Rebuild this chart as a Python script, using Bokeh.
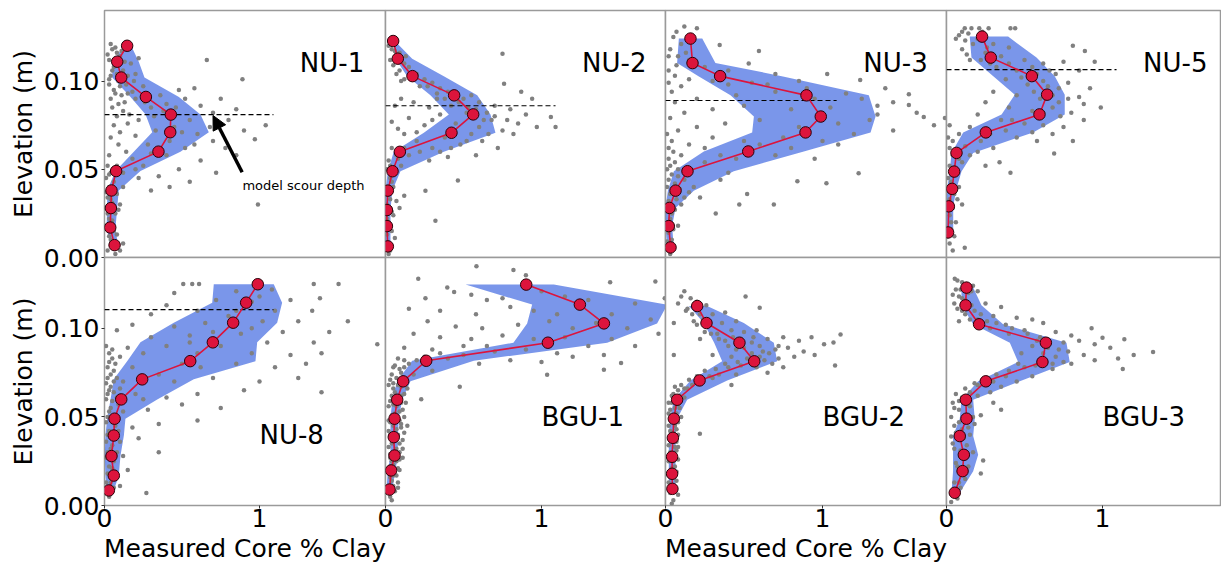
from bokeh.plotting import figure
from bokeh.layouts import row, column
from bokeh.models import Range1d, FixedTicker, PrintfTickFormatter, Label, Arrow, NormalHead
from bokeh.embed import file_html
from bokeh.resources import INLINE

# ---------------- data ----------------
PANEL_NAMES = ["NU-1", "NU-2", "NU-3", "NU-5", "NU-8", "BGU-1", "BGU-2", "BGU-3"]

NU1_ELEV = [0.120, 0.111, 0.102, 0.091, 0.081, 0.071, 0.060, 0.049, 0.038, 0.028, 0.017, 0.007]
NU1_CLAY = [0.146, 0.082, 0.108, 0.267, 0.428, 0.424, 0.348, 0.075, 0.045, 0.041, 0.037, 0.065]
NU1_LO = [0.129, 0.050, 0.050, 0.168, 0.265, 0.308, 0.189, 0.071, 0.017, 0.017, 0.013, 0.039]
NU1_HI = [0.172, 0.221, 0.258, 0.480, 0.619, 0.673, 0.490, 0.232, 0.092, 0.082, 0.071, 0.086]
NU1_SCOUR = 0.081

NU2_ELEV = [0.1227, 0.1127, 0.1028, 0.0919, 0.0811, 0.0707, 0.0599, 0.0489, 0.0379, 0.0269, 0.0178, 0.0063]
NU2_CLAY = [0.049, 0.079, 0.173, 0.440, 0.562, 0.423, 0.092, 0.045, 0.015, 0.009, 0.009, 0.015]
NU2_LO = [0.049, 0.064, 0.139, 0.288, 0.406, 0.246, 0.053, 0.015, 0.0, 0.0, 0.0, 0.0]
NU2_HI = [0.060, 0.171, 0.374, 0.588, 0.673, 0.705, 0.374, 0.096, 0.043, 0.032, 0.032, 0.032]
NU2_SCOUR = 0.086

NU3_ELEV = [0.1241, 0.1102, 0.1028, 0.0919, 0.0799, 0.0709, 0.0601, 0.0489, 0.0379, 0.0281, 0.0178, 0.0057]
NU3_CLAY = [0.159, 0.172, 0.348, 0.898, 0.989, 0.892, 0.527, 0.140, 0.064, 0.025, 0.021, 0.032]
NU3_LO = [0.085, 0.074, 0.210, 0.414, 0.563, 0.552, 0.244, 0.053, 0.015, 0.0, 0.0, 0.011]
NU3_HI = [0.234, 0.318, 0.741, 1.295, 1.338, 1.306, 0.881, 0.435, 0.180, 0.064, 0.042, 0.053]
NU3_SCOUR = 0.089

NU5_ELEV = [0.1252, 0.1133, 0.1028, 0.0923, 0.0811, 0.0709, 0.0593, 0.0487, 0.0389, 0.0290, 0.0142]
NU5_CLAY = [0.228, 0.284, 0.547, 0.645, 0.596, 0.252, 0.064, 0.049, 0.036, 0.015, 0.010]
NU5_LO = [0.149, 0.160, 0.300, 0.438, 0.353, 0.107, 0.032, 0.021, 0.004, 0.0, 0.0]
NU5_HI = [0.395, 0.577, 0.694, 0.758, 0.758, 0.555, 0.171, 0.096, 0.064, 0.043, 0.043]
NU5_SCOUR = 0.1065

NU8_ELEV = [0.1249, 0.1145, 0.1032, 0.0921, 0.0815, 0.0712, 0.0599, 0.0490, 0.0395, 0.0279, 0.0169, 0.0085]
NU8_CLAY = [0.989, 0.914, 0.830, 0.699, 0.553, 0.243, 0.108, 0.065, 0.060, 0.045, 0.060, 0.028]
NU8_LO = [0.705, 0.695, 0.447, 0.232, 0.146, 0.060, 0.039, 0.017, 0.006, 0.002, 0.006, 0.013]
NU8_HI = [1.092, 1.146, 1.114, 0.985, 0.974, 0.576, 0.340, 0.135, 0.125, 0.103, 0.092, 0.060]
NU8_SCOUR = 0.1106

BGU1_ELEV = [0.1247, 0.1134, 0.1028, 0.0919, 0.0817, 0.0701, 0.0597, 0.0490, 0.0386, 0.0282, 0.0198, 0.0090]
BGU1_CLAY = [0.902, 1.246, 1.400, 1.041, 0.261, 0.113, 0.075, 0.058, 0.053, 0.058, 0.036, 0.026]
BGU1_LO = [0.513, 0.940, 0.908, 0.820, 0.171, 0.075, 0.043, 0.032, 0.032, 0.032, 0.015, 0.006]
BGU1_HI = [1.079, 1.806, 1.741, 1.421, 0.566, 0.160, 0.107, 0.085, 0.079, 0.079, 0.064, 0.043]
BGU1_SCOUR = None

BGU2_ELEV = [0.1126, 0.1030, 0.0919, 0.0814, 0.0706, 0.0597, 0.0490, 0.0382, 0.0275, 0.0179, 0.0094]
BGU2_CLAY = [0.202, 0.261, 0.471, 0.565, 0.217, 0.074, 0.053, 0.047, 0.042, 0.042, 0.044]
BGU2_LO = [0.149, 0.244, 0.310, 0.361, 0.159, 0.053, 0.028, 0.021, 0.021, 0.021, 0.021]
BGU2_HI = [0.265, 0.499, 0.690, 0.711, 0.393, 0.138, 0.074, 0.064, 0.064, 0.064, 0.064]
BGU2_SCOUR = None

BGU3_ELEV = [0.1230, 0.1130, 0.1023, 0.0919, 0.0810, 0.0701, 0.0597, 0.0490, 0.0392, 0.0286, 0.0194, 0.0072]
BGU3_CLAY = [0.128, 0.122, 0.209, 0.637, 0.615, 0.252, 0.124, 0.128, 0.085, 0.111, 0.103, 0.053]
BGU3_LO = [0.096, 0.096, 0.171, 0.406, 0.459, 0.203, 0.096, 0.085, 0.042, 0.042, 0.042, 0.032]
BGU3_HI = [0.171, 0.224, 0.363, 0.769, 0.790, 0.470, 0.171, 0.181, 0.171, 0.203, 0.171, 0.085]
BGU3_SCOUR = None

# individual core measurements (clay, elevation)
NU1_POINTS = [
    (0.05, 0.118), (0.08, 0.116), (0.10, 0.114), (0.06, 0.108), (0.12, 0.106), (0.04, 0.103), (0.09, 0.100),
    (0.14, 0.098), (0.06, 0.095), (0.11, 0.092), (0.17, 0.110), (0.20, 0.104), (0.22, 0.113), (0.03, 0.098),
    (0.13, 0.088), (0.18, 0.094), (0.25, 0.097), (0.30, 0.085), (0.36, 0.092), (0.40, 0.087), (0.48, 0.095),
    (0.52, 0.090), (0.58, 0.096), (0.62, 0.086), (0.66, 0.112), (0.70, 0.082), (0.75, 0.090), (0.80, 0.078),
    (0.89, 0.101), (0.85, 0.084), (0.55, 0.078), (0.45, 0.074), (0.33, 0.072), (0.60, 0.070), (0.70, 0.066),
    (0.78, 0.062), (0.97, 0.067), (1.04, 0.075), (0.90, 0.072), (0.52, 0.062), (0.40, 0.058), (0.28, 0.064),
    (0.20, 0.069), (0.15, 0.076), (0.10, 0.071), (0.62, 0.055), (0.48, 0.050), (0.35, 0.046), (0.25, 0.052),
    (0.18, 0.056), (0.55, 0.043), (0.42, 0.040), (0.30, 0.038), (0.22, 0.045), (0.99, 0.030), (0.72, 0.048),
    (0.85, 0.058), (0.05, 0.085), (0.08, 0.080), (0.12, 0.083), (0.06, 0.075), (0.16, 0.081), (0.22, 0.078),
    (0.04, 0.068), (0.09, 0.064), (0.14, 0.060), (0.03, 0.058), (0.02, 0.052), (0.04, 0.048), (0.01, 0.045),
    (0.06, 0.043), (0.03, 0.040), (0.08, 0.036), (0.02, 0.034), (0.05, 0.031), (0.01, 0.028), (0.07, 0.025),
    (0.03, 0.022), (0.05, 0.019), (0.02, 0.016), (0.08, 0.013), (0.04, 0.010), (0.06, 0.006), (0.10, 0.004),
    (0.12, 0.008), (0.10, 0.030), (0.12, 0.040), (0.07, 0.110), (0.15, 0.119), (0.03, 0.112), (0.19, 0.100),
    (0.04, 0.121), (0.07, 0.119), (0.11, 0.117), (0.02, 0.115), (0.09, 0.112), (0.13, 0.111), (0.05, 0.106),
    (0.08, 0.104), (0.15, 0.103), (0.03, 0.101), (0.10, 0.097), (0.07, 0.093), (0.15, 0.093), (0.04, 0.090),
    (0.09, 0.087), (0.20, 0.090), (0.26, 0.088), (0.32, 0.080), (0.38, 0.083), (0.46, 0.085), (0.50, 0.071),
    (0.42, 0.066), (0.30, 0.059), (0.20, 0.050), (0.12, 0.048), (0.08, 0.052), (0.03, 0.047), (0.06, 0.039),
    (0.01, 0.037), (0.04, 0.033), (0.09, 0.027), (0.02, 0.025), (0.05, 0.021), (0.01, 0.018), (0.06, 0.015),
    (0.03, 0.012), (0.02, 0.004), (0.07, 0.002), (0.58, 0.064), (0.68, 0.074),
]
NU2_POINTS = [
    (0.04, 0.118), (0.07, 0.115), (0.10, 0.112), (0.13, 0.114), (0.05, 0.109), (0.09, 0.106), (0.15, 0.108),
    (0.20, 0.104), (0.25, 0.101), (0.12, 0.101), (0.30, 0.099), (0.35, 0.096), (0.22, 0.097), (0.40, 0.094),
    (0.45, 0.093), (0.50, 0.090), (0.55, 0.092), (0.60, 0.088), (0.75, 0.1155), (0.76, 0.0985), (0.87, 0.094),
    (0.94, 0.090), (0.70, 0.086), (0.65, 0.082), (0.80, 0.084), (0.90, 0.081), (1.06, 0.0797), (0.97, 0.074),
    (1.09, 0.0739), (0.85, 0.076), (0.75, 0.072), (0.68, 0.078), (0.60, 0.074), (0.55, 0.070), (0.45, 0.076),
    (0.35, 0.081), (0.28, 0.085), (0.18, 0.088), (0.10, 0.090), (0.06, 0.086), (0.15, 0.079), (0.25, 0.075),
    (0.38, 0.068), (0.48, 0.064), (0.62, 0.066), (0.72, 0.062), (0.30, 0.062), (0.20, 0.066), (0.12, 0.070),
    (0.08, 0.073), (0.04, 0.077), (0.15, 0.058), (0.28, 0.055), (0.40, 0.057), (0.58, 0.058), (0.464, 0.0436),
    (0.32, 0.0209), (0.256, 0.0379), (0.10, 0.052), (0.06, 0.048), (0.02, 0.055), (0.03, 0.045), (0.05, 0.040),
    (0.02, 0.036), (0.07, 0.032), (0.03, 0.028), (0.05, 0.024), (0.02, 0.020), (0.04, 0.015), (0.06, 0.011),
    (0.02, 0.008), (0.03, 0.004), (0.12, 0.035), (0.09, 0.028), (0.52, 0.082), (0.42, 0.086), (0.33, 0.090),
    (0.02, 0.120), (0.06, 0.117), (0.09, 0.116), (0.03, 0.112), (0.12, 0.110), (0.07, 0.104), (0.16, 0.104),
    (0.10, 0.100), (0.27, 0.097), (0.33, 0.093), (0.38, 0.090), (0.47, 0.088), (0.53, 0.085), (0.58, 0.084),
    (0.63, 0.078), (0.70, 0.080), (0.78, 0.078), (0.82, 0.070), (0.66, 0.070), (0.52, 0.066), (0.42, 0.062),
    (0.35, 0.060), (0.22, 0.060), (0.12, 0.062), (0.07, 0.058), (0.04, 0.062), (0.03, 0.052), (0.08, 0.056),
    (0.01, 0.050), (0.04, 0.043), (0.01, 0.040), (0.03, 0.033), (0.01, 0.030), (0.04, 0.026), (0.01, 0.022),
    (0.03, 0.018), (0.01, 0.013), (0.02, 0.002), (0.20, 0.071), (0.30, 0.078),
]
NU3_POINTS = [
    (0.12, 0.131), (0.20, 0.130), (0.05, 0.125), (0.10, 0.121), (0.345, 0.1205), (0.03, 0.118), (0.595, 0.117),
    (0.08, 0.114), (0.15, 0.112), (0.53, 0.110), (0.25, 0.108), (0.02, 0.106), (0.40, 0.106), (0.06, 0.103),
    (1.03, 0.104), (0.70, 0.104), (1.24, 0.1006), (0.85, 0.100), (0.55, 0.099), (0.30, 0.100), (0.10, 0.097),
    (0.04, 0.094), (1.40, 0.096), (1.55, 0.0926), (1.15, 0.093), (0.95, 0.090), (0.70, 0.094), (0.45, 0.092),
    (0.20, 0.090), (0.06, 0.088), (1.55, 0.0865), (1.35, 0.086), (1.05, 0.085), (0.80, 0.084), (0.50, 0.086),
    (0.30, 0.084), (0.12, 0.082), (0.03, 0.079), (1.645, 0.0797), (1.78, 0.079), (1.71, 0.075), (1.30, 0.078),
    (1.10, 0.076), (0.85, 0.074), (0.60, 0.078), (0.38, 0.076), (0.20, 0.074), (0.08, 0.072), (1.45, 0.072),
    (1.20, 0.070), (1.00, 0.066), (0.75, 0.068), (0.50, 0.066), (0.30, 0.068), (0.15, 0.064), (0.04, 0.066),
    (1.23, 0.0477), (1.025, 0.0421), (0.84, 0.0432), (0.95, 0.056), (0.70, 0.058), (0.45, 0.056), (0.25, 0.054),
    (0.10, 0.058), (0.69, 0.030), (0.47, 0.030), (0.32, 0.0249), (0.52, 0.036), (0.35, 0.044), (0.18, 0.040),
    (0.08, 0.046), (0.03, 0.052), (0.02, 0.044), (0.05, 0.038), (0.12, 0.034), (0.02, 0.032), (0.06, 0.027),
    (0.03, 0.022), (0.08, 0.018), (0.02, 0.014), (0.04, 0.010), (0.02, 0.005), (0.22, 0.034), (0.40, 0.048),
    (0.01, 0.070), (0.02, 0.062), (0.05, 0.060), (0.02, 0.056), (0.06, 0.054), (0.01, 0.050), (0.08, 0.050),
    (0.04, 0.047), (0.12, 0.044), (0.06, 0.042), (0.01, 0.040), (0.09, 0.039), (0.03, 0.036), (0.15, 0.037),
    (0.07, 0.033), (0.01, 0.028), (0.10, 0.030), (0.04, 0.025), (0.01, 0.019), (0.05, 0.016), (0.01, 0.009),
    (0.03, 0.002), (0.25, 0.062), (0.35, 0.058), (0.60, 0.064), (0.80, 0.062), (1.10, 0.064), (1.35, 0.081),
    (1.60, 0.082), (1.45, 0.088), (1.25, 0.090), (0.90, 0.096), (0.65, 0.098), (0.40, 0.098), (0.15, 0.101),
    (0.02, 0.099), (0.07, 0.109), (0.02, 0.114), (0.13, 0.116), (0.07, 0.128),
]
NU5_POINTS = [
    (0.117, 0.130), (0.16, 0.130), (0.21, 0.130), (0.27, 0.130), (0.41, 0.130), (0.44, 0.130), (0.08, 0.126),
    (0.12, 0.123), (0.20, 0.124), (0.30, 0.121), (0.40, 0.119), (0.81, 0.120), (0.887, 0.117), (0.10, 0.118),
    (0.25, 0.116), (0.35, 0.114), (0.50, 0.112), (0.62, 0.110), (0.95, 0.111), (0.75, 0.111), (0.15, 0.112),
    (0.32, 0.108), (0.45, 0.106), (0.58, 0.104), (0.70, 0.104), (0.85, 0.106), (0.38, 0.101), (0.52, 0.098),
    (0.65, 0.097), (0.78, 0.099), (0.92, 0.096), (0.30, 0.094), (0.45, 0.092), (0.60, 0.090), (0.72, 0.088),
    (0.85, 0.091), (0.25, 0.088), (0.40, 0.085), (0.55, 0.083), (0.68, 0.085), (0.80, 0.082), (0.989, 0.085),
    (0.20, 0.081), (0.35, 0.078), (0.50, 0.076), (0.62, 0.075), (0.75, 0.074), (0.88, 0.078), (0.15, 0.074),
    (0.28, 0.070), (0.45, 0.068), (0.58, 0.066), (0.81, 0.066), (0.69, 0.059), (0.08, 0.070), (0.02, 0.075),
    (0.04, 0.066), (0.12, 0.063), (0.20, 0.060), (0.34, 0.054), (0.41, 0.048), (0.25, 0.052), (0.10, 0.054),
    (0.04, 0.058), (0.02, 0.052), (0.06, 0.047), (0.03, 0.043), (0.08, 0.040), (0.05, 0.036), (0.02, 0.033),
    (0.10, 0.030), (0.04, 0.028), (0.02, 0.024), (0.06, 0.020), (0.03, 0.016), (0.05, 0.012), (0.117, 0.0055),
    (0.02, 0.008),
    (0.10, 0.128), (0.14, 0.127), (0.23, 0.128), (0.06, 0.124), (0.17, 0.121), (0.26, 0.119), (0.13, 0.115),
    (0.22, 0.112), (0.28, 0.110), (0.40, 0.110), (0.55, 0.108), (0.66, 0.106), (0.48, 0.102), (0.62, 0.100),
    (0.72, 0.096), (0.56, 0.094), (0.68, 0.092), (0.78, 0.090), (0.88, 0.087), (0.62, 0.082), (0.73, 0.080),
    (0.42, 0.078), (0.55, 0.071), (0.68, 0.070), (0.38, 0.072), (0.22, 0.066), (0.30, 0.062), (0.15, 0.058),
    (0.08, 0.056), (0.02, 0.062), (0.01, 0.068), (0.05, 0.050), (0.01, 0.045), (0.07, 0.033), (0.01, 0.038),
    (0.03, 0.020), (0.01, 0.012), (0.04, 0.004),
]
NU8_POINTS = [
    (0.508, 0.125), (0.566, 0.125), (0.61, 0.125), (1.35, 0.125), (1.51, 0.125), (0.45, 0.120), (0.85, 0.121),
    (1.08, 0.122), (1.39, 0.117), (1.20, 0.116), (0.72, 0.116), (0.95, 0.115), (0.40, 0.113), (1.34, 0.110),
    (1.10, 0.110), (0.60, 0.110), (0.30, 0.108), (0.80, 0.107), (1.57, 0.104), (1.25, 0.104), (1.02, 0.104),
    (0.65, 0.103), (0.18, 0.102), (0.45, 0.101), (0.08, 0.099), (1.45, 0.098), (1.15, 0.098), (0.88, 0.097),
    (0.55, 0.096), (0.30, 0.095), (1.76, 0.091), (1.35, 0.092), (1.05, 0.092), (0.75, 0.090), (0.40, 0.090),
    (0.15, 0.089), (0.05, 0.088), (1.40, 0.086), (1.20, 0.085), (0.95, 0.086), (0.60, 0.086), (0.25, 0.086),
    (0.10, 0.084), (0.03, 0.081), (1.30, 0.080), (1.10, 0.078), (0.85, 0.080), (0.50, 0.080), (0.18, 0.078),
    (0.06, 0.076), (0.02, 0.072), (1.25, 0.072), (1.00, 0.070), (0.70, 0.072), (0.35, 0.074), (0.12, 0.070),
    (0.04, 0.067), (1.40, 0.064), (0.90, 0.065), (0.60, 0.063), (0.40, 0.061), (0.20, 0.063), (0.08, 0.061),
    (0.02, 0.063), (0.75, 0.055), (0.50, 0.057), (0.28, 0.054), (0.12, 0.053), (0.04, 0.055), (0.02, 0.050),
    (0.60, 0.048), (0.35, 0.046), (0.18, 0.044), (0.07, 0.045), (0.03, 0.042), (0.22, 0.038), (0.10, 0.036),
    (0.05, 0.034), (0.02, 0.030), (0.35, 0.030), (0.12, 0.028), (0.06, 0.025), (0.03, 0.022), (0.15, 0.020),
    (0.08, 0.016), (0.04, 0.013), (0.10, 0.011), (0.27, 0.007), (0.02, 0.008),
    (0.01, 0.090), (0.03, 0.086), (0.05, 0.083), (0.02, 0.078), (0.07, 0.080), (0.04, 0.074), (0.08, 0.072),
    (0.01, 0.069), (0.06, 0.070), (0.03, 0.065), (0.06, 0.064), (0.10, 0.066), (0.01, 0.060), (0.05, 0.059),
    (0.09, 0.057), (0.03, 0.053), (0.07, 0.050), (0.01, 0.047), (0.05, 0.047), (0.09, 0.042), (0.02, 0.040),
    (0.06, 0.038), (0.01, 0.036), (0.04, 0.032), (0.08, 0.030), (0.01, 0.027), (0.05, 0.021), (0.02, 0.018),
    (0.07, 0.019), (0.01, 0.013), (0.06, 0.010), (0.03, 0.005), (0.55, 0.092), (0.70, 0.098), (0.85, 0.110),
    (1.00, 0.118), (0.95, 0.100), (0.62, 0.078), (0.45, 0.070), (0.25, 0.060),
]
BGU1_POINTS = [
    (0.583, 0.135), (0.82, 0.133), (0.21, 0.128), (0.90, 0.130), (1.44, 0.126), (1.73, 0.1265), (0.396, 0.123),
    (0.44, 0.1205), (0.256, 0.117), (0.65, 0.116), (0.55, 0.119), (0.75, 0.117), (1.00, 0.121), (1.15, 0.118),
    (1.30, 0.116), (1.79, 0.117), (1.60, 0.114), (0.15, 0.111), (0.35, 0.110), (0.58, 0.108), (0.80, 0.112),
    (0.95, 0.110), (1.10, 0.108), (1.25, 0.112), (1.45, 0.108), (1.70, 0.105), (0.27, 0.104), (0.45, 0.101),
    (0.62, 0.100), (0.85, 0.102), (1.05, 0.104), (1.20, 0.100), (1.35, 0.103), (1.55, 0.100), (1.75, 0.097),
    (0.18, 0.097), (0.35, 0.095), (0.55, 0.094), (0.75, 0.096), (0.95, 0.094), (1.15, 0.095), (1.30, 0.090),
    (1.45, 0.094), (1.60, 0.090), (0.12, 0.089), (0.30, 0.088), (0.50, 0.090), (0.70, 0.087), (0.90, 0.088),
    (1.10, 0.086), (1.40, 0.085), (1.51, 0.0804), (0.08, 0.083), (0.20, 0.082), (0.40, 0.083), (0.60, 0.080),
    (0.80, 0.082), (1.00, 0.081), (1.20, 0.084), (1.40, 0.0766), (1.036, 0.0738), (0.05, 0.078), (0.10, 0.075),
    (0.18, 0.074), (0.30, 0.076), (0.476, 0.067), (0.03, 0.071), (0.08, 0.068), (0.14, 0.066), (0.06, 0.064),
    (0.10, 0.062), (0.229, 0.060), (0.03, 0.059), (0.07, 0.056), (0.11, 0.054), (0.04, 0.051), (0.09, 0.048),
    (0.05, 0.045), (0.02, 0.042), (0.08, 0.040), (0.11, 0.037), (0.04, 0.035), (0.07, 0.032), (0.03, 0.029),
    (0.09, 0.026), (0.05, 0.023), (0.02, 0.020), (0.07, 0.017), (0.04, 0.014), (0.02, 0.011), (0.06, 0.008),
    (0.03, 0.005), (0.05, 0.066), (0.12, 0.070), (0.06, 0.052), (0.10, 0.044), (0.06, 0.038), (0.09, 0.030),
    (0.04, 0.025), (0.08, 0.021), (0.05, 0.017), (0.10, 0.058), (0.02, 0.048), (0.08, 0.010),
    (0.06, 0.079), (0.09, 0.077), (0.12, 0.078), (0.04, 0.074), (0.07, 0.072), (0.11, 0.072), (0.02, 0.068),
    (0.05, 0.069), (0.10, 0.067), (0.04, 0.062), (0.08, 0.060), (0.12, 0.063), (0.02, 0.056), (0.05, 0.057),
    (0.09, 0.053), (0.12, 0.050), (0.03, 0.047), (0.06, 0.049), (0.10, 0.046), (0.03, 0.040), (0.07, 0.043),
    (0.12, 0.041), (0.05, 0.038), (0.09, 0.035), (0.02, 0.033), (0.06, 0.030), (0.11, 0.032), (0.03, 0.027),
    (0.07, 0.025), (0.11, 0.027), (0.03, 0.022), (0.09, 0.020), (0.05, 0.019), (0.03, 0.016), (0.08, 0.013),
    (0.05, 0.011), (0.02, 0.008), (0.04, 0.003), (0.13, 0.058), (0.14, 0.045), (0.15, 0.080), (0.25, 0.084),
    (0.35, 0.086), (0.50, 0.085), (0.65, 0.090), (0.12, 0.082),
]
BGU2_POINTS = [
    (0.12, 0.121), (0.16, 0.117), (0.10, 0.118), (0.51, 0.118), (0.20, 0.115), (0.26, 0.113), (0.60, 0.1116),
    (0.14, 0.111), (0.22, 0.108), (0.30, 0.108), (0.38, 0.109), (0.053, 0.103), (0.18, 0.104), (0.28, 0.102),
    (0.36, 0.103), (0.45, 0.104), (0.25, 0.098), (0.33, 0.097), (0.42, 0.099), (0.50, 0.098), (0.58, 0.099),
    (0.22, 0.094), (0.38, 0.093), (0.48, 0.094), (0.55, 0.092), (0.65, 0.094), (0.75, 0.095), (0.85, 0.093),
    (0.93, 0.095), (1.115, 0.0966), (1.07, 0.092), (1.01, 0.091), (0.78, 0.089), (0.70, 0.088), (0.62, 0.087),
    (0.55, 0.086), (0.45, 0.088), (0.88, 0.087), (0.95, 0.085), (0.82, 0.084), (0.72, 0.083), (0.63, 0.082),
    (0.52, 0.083), (0.42, 0.084), (0.30, 0.085), (0.053, 0.085), (1.08, 0.079), (0.75, 0.078), (0.68, 0.080),
    (0.58, 0.078), (0.48, 0.079), (0.38, 0.080), (0.32, 0.077), (0.25, 0.076), (0.65, 0.075), (0.45, 0.074),
    (0.20, 0.073), (0.15, 0.071), (0.30, 0.072), (0.42, 0.068), (0.10, 0.068), (0.08, 0.065), (0.14, 0.066),
    (0.05, 0.063), (0.12, 0.061), (0.04, 0.058), (0.08, 0.057), (0.03, 0.054), (0.07, 0.052), (0.10, 0.050),
    (0.04, 0.048), (0.06, 0.045), (0.03, 0.042), (0.219, 0.0405), (0.08, 0.040), (0.05, 0.037), (0.02, 0.034),
    (0.07, 0.031), (0.04, 0.028), (0.02, 0.025), (0.06, 0.022), (0.03, 0.019), (0.05, 0.016), (0.02, 0.013),
    (0.06, 0.010), (0.03, 0.007), (0.05, 0.003), (0.06, 0.060), (0.09, 0.055), (0.05, 0.050), (0.07, 0.043),
    (0.04, 0.039), (0.06, 0.033), (0.08, 0.026), (0.04, 0.021), (0.07, 0.014),
    (0.08, 0.114), (0.13, 0.110), (0.17, 0.108), (0.20, 0.102), (0.24, 0.105), (0.29, 0.097), (0.34, 0.094),
    (0.40, 0.090), (0.43, 0.095), (0.50, 0.089), (0.56, 0.095), (0.60, 0.090), (0.66, 0.086), (0.72, 0.090),
    (0.60, 0.084), (0.55, 0.081), (0.46, 0.081), (0.40, 0.078), (0.34, 0.074), (0.28, 0.073), (0.22, 0.070),
    (0.17, 0.068), (0.12, 0.066), (0.06, 0.067), (0.04, 0.062), (0.09, 0.062), (0.02, 0.058), (0.06, 0.055),
    (0.02, 0.052), (0.08, 0.047), (0.02, 0.045), (0.05, 0.041), (0.07, 0.036), (0.03, 0.030), (0.08, 0.033),
    (0.05, 0.025), (0.07, 0.019), (0.03, 0.011), (0.08, 0.006), (0.04, 0.001),
]
BGU3_POINTS = [
    (0.053, 0.128), (0.10, 0.126), (0.17, 0.124), (0.06, 0.122), (0.14, 0.120), (0.20, 0.121), (0.08, 0.118),
    (0.12, 0.116), (0.05, 0.114), (0.16, 0.113), (0.25, 0.114), (0.35, 0.112), (0.10, 0.110), (0.22, 0.108),
    (0.30, 0.107), (0.45, 0.106), (0.55, 0.105), (0.15, 0.105), (0.08, 0.104), (0.38, 0.102), (0.62, 0.103),
    (0.93, 0.100), (0.28, 0.100), (0.50, 0.099), (0.70, 0.098), (0.80, 0.096), (0.40, 0.097), (0.60, 0.095),
    (1.00, 0.0947), (1.14, 0.0938), (0.75, 0.092), (0.85, 0.093), (0.95, 0.091), (0.55, 0.090), (0.65, 0.089),
    (1.05, 0.089), (1.324, 0.0866), (0.78, 0.087), (0.88, 0.085), (1.20, 0.085), (0.48, 0.086), (0.70, 0.084),
    (0.95, 0.082), (1.10, 0.083), (0.60, 0.081), (0.80, 0.080), (1.13, 0.077), (0.50, 0.078), (0.68, 0.077),
    (0.40, 0.076), (0.32, 0.074), (0.55, 0.073), (0.25, 0.072), (0.45, 0.070), (0.18, 0.069), (0.35, 0.067),
    (0.12, 0.066), (0.28, 0.064), (0.06, 0.063), (0.20, 0.062), (0.10, 0.061), (0.30, 0.058), (0.04, 0.058),
    (0.15, 0.056), (0.35, 0.054), (0.08, 0.054), (0.22, 0.051), (0.03, 0.050), (0.12, 0.048), (0.18, 0.046),
    (0.05, 0.045), (0.10, 0.043), (0.15, 0.040), (0.03, 0.039), (0.08, 0.037), (0.13, 0.034), (0.05, 0.032),
    (0.17, 0.030), (0.235, 0.0254), (0.10, 0.027), (0.06, 0.024), (0.14, 0.022), (0.22, 0.018), (0.08, 0.019),
    (0.12, 0.015), (0.05, 0.013), (0.09, 0.010), (0.04, 0.007), (0.07, 0.004),
    (0.07, 0.127), (0.13, 0.125), (0.09, 0.122), (0.16, 0.121), (0.04, 0.119), (0.10, 0.117), (0.14, 0.113),
    (0.07, 0.111), (0.18, 0.110), (0.12, 0.108), (0.20, 0.105), (0.26, 0.104), (0.32, 0.103), (0.42, 0.100),
    (0.52, 0.097), (0.58, 0.093), (0.66, 0.092), (0.72, 0.088), (0.62, 0.086), (0.75, 0.081), (0.68, 0.080),
    (0.57, 0.079), (0.46, 0.080), (0.38, 0.073), (0.30, 0.070), (0.20, 0.068), (0.15, 0.064), (0.08, 0.059),
    (0.13, 0.057), (0.05, 0.055), (0.17, 0.050), (0.08, 0.047), (0.14, 0.044), (0.06, 0.041), (0.11, 0.038),
    (0.04, 0.035), (0.09, 0.031), (0.13, 0.028), (0.07, 0.022), (0.11, 0.019), (0.08, 0.013), (0.06, 0.009),
    (0.03, 0.002),
]

Y_TICKS = [0.0, 0.05, 0.10]
X_TICKS = [0, 1]

PANELS = [
    (NU1_ELEV, NU1_CLAY, NU1_LO, NU1_HI, NU1_POINTS, NU1_SCOUR),
    (NU2_ELEV, NU2_CLAY, NU2_LO, NU2_HI, NU2_POINTS, NU2_SCOUR),
    (NU3_ELEV, NU3_CLAY, NU3_LO, NU3_HI, NU3_POINTS, NU3_SCOUR),
    (NU5_ELEV, NU5_CLAY, NU5_LO, NU5_HI, NU5_POINTS, NU5_SCOUR),
    (NU8_ELEV, NU8_CLAY, NU8_LO, NU8_HI, NU8_POINTS, NU8_SCOUR),
    (BGU1_ELEV, BGU1_CLAY, BGU1_LO, BGU1_HI, BGU1_POINTS, BGU1_SCOUR),
    (BGU2_ELEV, BGU2_CLAY, BGU2_LO, BGU2_HI, BGU2_POINTS, BGU2_SCOUR),
    (BGU3_ELEV, BGU3_CLAY, BGU3_LO, BGU3_HI, BGU3_POINTS, BGU3_SCOUR),
]

# ---------------- layout / style ----------------
FONT = "DejaVu Sans"
FRAME_W = [281, 280, 281, 275]
PX_PER_UNIT = [155, 156, 157, 156]
FRAME_H = [247, 248]
Y_MAX = 0.14
OVERLAP_X = 12
OVERLAP_Y = 14
SCOUR_LINE_END = 1.09
LABEL_POS = [(1.26, 0.110)] * 4 + [(1.0, 0.040), (1.0, 0.050), (1.0, 0.050), (1.0, 0.050)]
SPINE = "#9a9a9a"


def make_panel(i):
    r, c = divmod(i, 4)
    elev, clay, lo, hi, pts, scour = PANELS[i]
    left = c == 0
    bottom = r == 1
    kw = {}
    if c > 0:
        kw["margin"] = (0, 0, 0, -2 * OVERLAP_X)
    p = figure(
        output_backend="svg", toolbar_location=None,
        x_range=Range1d(0, FRAME_W[c] / PX_PER_UNIT[c]), y_range=Range1d(0, Y_MAX),
        frame_width=FRAME_W[c], frame_height=FRAME_H[r],
        min_border_left=104 if left else OVERLAP_X,
        min_border_right=0 if c == 3 else OVERLAP_X,
        min_border_top=10 if r == 0 else OVERLAP_Y,
        min_border_bottom=61 if bottom else OVERLAP_Y,
        x_axis_location="below" if bottom else None,
        y_axis_location="left" if left else None,
        border_fill_color=None, background_fill_color="white",
        outline_line_color=SPINE, outline_line_width=1.5,
        **kw,
    )
    p.xgrid.grid_line_color = None
    p.ygrid.grid_line_color = None

    if left:
        ax = p.yaxis[0]
        ax.ticker = FixedTicker(ticks=Y_TICKS)
        ax.formatter = PrintfTickFormatter(format="%.2f")
        ax.axis_label = "Elevation (m)"
        ax.axis_label_standoff = 3
        ax.major_label_standoff = 2
    if bottom:
        ax = p.xaxis[0]
        ax.ticker = FixedTicker(ticks=X_TICKS)
        ax.major_label_standoff = 0
        ax.axis_label_standoff = 4
        if c in (0, 2):
            ax.axis_label = "Measured Core % Clay"
    for ax in p.axis:
        ax.axis_line_color = None
        ax.major_tick_out = 3
        ax.major_tick_in = 0
        ax.major_tick_line_color = "#333333"
        ax.minor_tick_line_color = None
        ax.major_label_text_font = FONT
        ax.major_label_text_font_size = "25px"
        ax.major_label_text_color = "black"
        ax.axis_label_text_font = FONT
        ax.axis_label_text_font_size = "25px"
        ax.axis_label_text_font_style = "normal"
        ax.axis_label_text_color = "black"

    # spread band
    p.harea(x1=lo, x2=hi, y=elev, fill_color="royalblue", fill_alpha=0.7)
    # raw measurements
    p.scatter([q[0] for q in pts], [q[1] for q in pts], size=4.5, fill_color="gray",
              line_color=None, marker="circle")
    # model scour depth
    if scour is not None:
        p.segment(x0=0, y0=scour, x1=SCOUR_LINE_END, y1=scour, line_color="black",
                  line_width=1.1, line_dash="5 3")
    # mean profile
    p.line(clay, elev, line_color="crimson", line_width=1.6)
    p.scatter(clay, elev, size=11.5, fill_color="crimson", line_color="#2a0008",
              line_width=1, marker="circle")

    lx, ly = LABEL_POS[i]
    p.add_layout(Label(x=lx, y=ly, text=PANEL_NAMES[i], text_font=FONT, text_font_size="26px",
                       text_color="black", text_align="left", text_baseline="alphabetic"))
    if i == 0:
        p.add_layout(Arrow(end=NormalHead(size=14, fill_color="black", line_color="black"),
                           x_start=0.888, y_start=0.0483, x_end=0.70, y_end=0.0805,
                           line_color="black", line_width=3.5))
        p.add_layout(Label(x=0.89, y=0.041, text="model scour depth", text_font=FONT,
                           text_font_size="13px", text_color="black", text_align="left",
                           text_baseline="alphabetic"))
    return p


figs = [make_panel(i) for i in range(8)]
top = row(*figs[:4])
bot = row(*figs[4:], margin=(-2 * OVERLAP_Y, 0, 0, 0))
layout = column(top, bot)

open("out.html", "w").write(file_html(layout, INLINE))
